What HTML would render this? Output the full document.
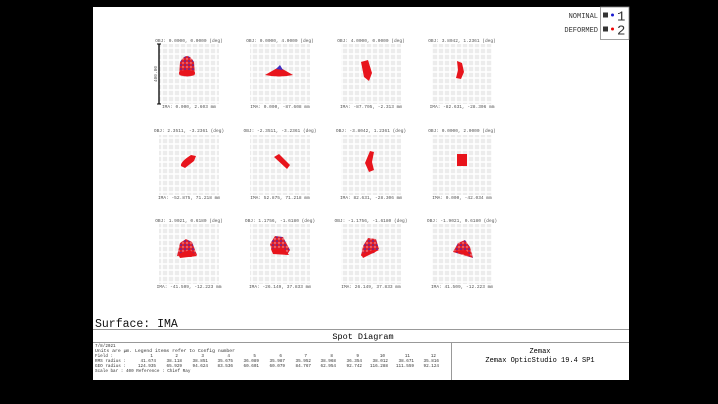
<!DOCTYPE html>
<html><head><meta charset="utf-8"><style>
html,body{margin:0;padding:0;background:#000;}
svg{display:block;}
text{font-family:"Liberation Mono",monospace;}
</style></head><body>
<svg width="718" height="404" viewBox="0 0 718 404" xmlns="http://www.w3.org/2000/svg">
<defs>
<pattern id="g" x="0" y="0" width="6" height="6" patternUnits="userSpaceOnUse">
<rect width="6" height="6" fill="#fff"/><rect x="0.8" y="0.8" width="4.4" height="4.4" fill="#ececec"/>
</pattern>
<pattern id="dots" width="4" height="4" patternUnits="userSpaceOnUse">
<rect width="4" height="4" fill="#e0202a"/><circle cx="1" cy="1" r="0.8" fill="#2a1fc8"/><circle cx="3" cy="3" r="0.7" fill="#f4b0c0"/>
</pattern>
</defs>
<rect x="93" y="7" width="536" height="373" fill="#fff"/>
<rect x="600.5" y="7" width="28.5" height="32.5" fill="#fff" stroke="#888" stroke-width="0.8"/>
<text x="598" y="18" font-size="7" text-anchor="end" fill="#333">NOMINAL</text>
<text x="598" y="32" font-size="7" text-anchor="end" fill="#333">DEFORMED</text>
<rect x="603" y="12.5" width="5" height="5" fill="#333"/><rect x="603" y="26.5" width="5" height="5" fill="#333"/>
<circle cx="612.5" cy="15" r="1.5" fill="#1a1ad0"/><circle cx="612.5" cy="29" r="1.5" fill="#e00"/>
<text x="617" y="20.5" font-size="14" fill="#333" font-family="Liberation Sans,sans-serif">1</text>
<text x="617" y="34.5" font-size="14" fill="#333" font-family="Liberation Sans,sans-serif">2</text>
<g fill="url(#g)">
<rect x="159" y="44" width="60" height="60"/><rect x="250" y="44" width="60" height="60"/><rect x="341" y="44" width="60" height="60"/><rect x="432" y="44" width="60" height="60"/>
<rect x="159" y="135" width="60" height="60"/><rect x="250" y="135" width="60" height="60"/><rect x="341" y="135" width="60" height="60"/><rect x="432" y="135" width="60" height="60"/>
<rect x="159" y="224" width="60" height="60"/><rect x="250" y="224" width="60" height="60"/><rect x="341" y="224" width="60" height="60"/><rect x="432" y="224" width="60" height="60"/>
</g>
<line x1="159" y1="44" x2="159" y2="104" stroke="#000" stroke-width="1.3"/>
<line x1="157" y1="44" x2="161" y2="44" stroke="#000"/><line x1="157" y1="104" x2="161" y2="104" stroke="#000"/>
<text x="0" y="0" font-size="4.5" fill="#555" transform="translate(157,74) rotate(-90)" text-anchor="middle">400.00</text>
<g font-size="4.5" text-anchor="middle" fill="#555">
<text x="189" y="42">OBJ: 0.0000, 0.0000 (deg)</text><text x="280" y="42">OBJ: 0.0000, 4.0000 (deg)</text><text x="371" y="42">OBJ: 4.0000, 0.0000 (deg)</text><text x="462" y="42">OBJ: 3.8042, 1.2361 (deg)</text>
<text x="189" y="108">IMA: 0.000, 2.603 mm</text><text x="280" y="108">IMA: 0.000, -87.608 mm</text><text x="371" y="108">IMA: -87.705, -2.313 mm</text><text x="462" y="108">IMA: -82.631, -28.306 mm</text>
<text x="189" y="132">OBJ: 2.3511, -3.2361 (deg)</text><text x="280" y="132">OBJ: -2.3511, -3.2361 (deg)</text><text x="371" y="132">OBJ: -3.8042, 1.2361 (deg)</text><text x="462" y="132">OBJ: 0.0000, 2.0000 (deg)</text>
<text x="189" y="199">IMA: -52.875, 71.218 mm</text><text x="280" y="199">IMA: 52.875, 71.218 mm</text><text x="371" y="199">IMA: 82.631, -28.306 mm</text><text x="462" y="199">IMA: 0.000, -42.034 mm</text>
<text x="189" y="222">OBJ: 1.9021, 0.6180 (deg)</text><text x="280" y="222">OBJ: 1.1756, -1.6180 (deg)</text><text x="371" y="222">OBJ: -1.1756, -1.6180 (deg)</text><text x="462" y="222">OBJ: -1.9021, 0.6180 (deg)</text>
<text x="189" y="288">IMA: -41.509, -12.223 mm</text><text x="280" y="288">IMA: -26.149, 37.833 mm</text><text x="371" y="288">IMA: 26.149, 37.833 mm</text><text x="462" y="288">IMA: 41.509, -12.223 mm</text>
</g>
<g fill="#e8141c">
<path d="M179,75 L180,62 Q187,50 194,62 L195,75 Q187,78 179,75Z" fill="url(#dots)"/>
<ellipse cx="187" cy="73" rx="8" ry="3"/>
<path d="M265,75 L279,67 L293,75 Q279,78 265,75Z"/>
<path d="M276,69 L280,65 L283,70Z" fill="#4030c0"/>
<path d="M361,62 L368,60 L372,73 L369,81 L364,77 Z"/>
<path d="M457,61 L462,63 L464,72 L461,79 L456,78 L458,70 Z"/>
<path d="M181,166 Q180,162 191,155 L196,156 L194,161 L185,168 Z"/>
<path d="M274,157 L279,154 L290,165 L287,169 Z"/>
<path d="M370,151 L374,152 L372,162 L374,170 L369,172 L365,163 Z"/>
<rect x="457" y="154" width="10" height="12"/>
<path d="M177,256 L180,243 L186,239 L192,242 L197,255 L191,257 Z" fill="url(#dots)"/>
<path d="M178,254 L190,250 L197,256 L180,258Z"/>
<path d="M270,244 L275,236 L283,237 L290,250 L287,255 L272,252 Z" fill="url(#dots)"/>
<path d="M271,249 L284,248 L289,255 L273,254Z"/>
<path d="M361,256 L363,246 L368,238 L376,239 L379,249 L374,253 Z" fill="url(#dots)"/>
<path d="M361,254 L373,250 L379,250 L363,258Z"/>
<path d="M453,252 L458,243 L465,240 L470,247 L473,258 Z" fill="url(#dots)"/>
<path d="M453,251 L466,250 L472,257Z"/>
</g>
<text x="95" y="327" font-size="11.5" fill="#111">Surface: IMA</text>
<line x1="93" y1="329.5" x2="629" y2="329.5" stroke="#999" stroke-width="1"/>
<text x="363" y="339" font-size="8.5" text-anchor="middle">Spot Diagram</text>
<line x1="93" y1="342.5" x2="629" y2="342.5" stroke="#999" stroke-width="1"/>
<line x1="451.5" y1="342" x2="451.5" y2="380" stroke="#999" stroke-width="1"/>
<text x="540" y="353" font-size="7" text-anchor="middle">Zemax</text>
<text x="540" y="362" font-size="7" text-anchor="middle">Zemax OpticStudio 19.4 SP1</text>
<g font-size="4.3" fill="#333">
<text x="95" y="347">7/8/2021</text>
<text x="95" y="352" textLength="140" lengthAdjust="spacingAndGlyphs">Units are µm. Legend items refer to Config number</text>
<text x="95" y="357">Field       :</text>
<text x="95" y="362">RMS radius :</text>
<text x="95" y="367">GEO radius :</text>
<text x="95" y="372">Scale bar  : 400      Reference  : Chief Ray</text>
</g>
<g font-size="4.3" fill="#333" text-anchor="end">
<text y="357"><tspan x="153">1</tspan><tspan x="178">2</tspan><tspan x="204">3</tspan><tspan x="230">4</tspan><tspan x="256">5</tspan><tspan x="282">6</tspan><tspan x="307">7</tspan><tspan x="333">8</tspan><tspan x="359">9</tspan><tspan x="385">10</tspan><tspan x="410">11</tspan><tspan x="436">12</tspan></text>
<text y="362"><tspan x="156">41.674</tspan><tspan x="182">38.118</tspan><tspan x="208">38.851</tspan><tspan x="233">35.675</tspan><tspan x="259">36.089</tspan><tspan x="285">35.987</tspan><tspan x="311">35.952</tspan><tspan x="336">38.968</tspan><tspan x="362">36.354</tspan><tspan x="388">38.012</tspan><tspan x="414">38.671</tspan><tspan x="439">35.816</tspan></text>
<text y="367"><tspan x="156">124.935</tspan><tspan x="182">65.929</tspan><tspan x="208">94.624</tspan><tspan x="233">83.536</tspan><tspan x="259">60.601</tspan><tspan x="285">60.079</tspan><tspan x="311">84.767</tspan><tspan x="336">62.954</tspan><tspan x="362">92.742</tspan><tspan x="388">116.288</tspan><tspan x="414">111.559</tspan><tspan x="439">92.124</tspan></text>
</g>
</svg>
</body></html>
